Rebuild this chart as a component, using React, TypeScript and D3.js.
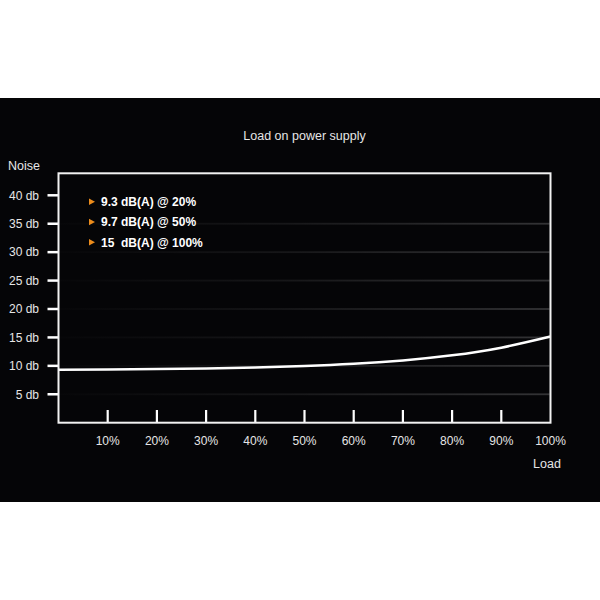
import React from "react";
import * as d3 from "d3";

const loadPct = [0, 10, 20, 30, 40, 50, 60, 70, 80, 90, 100];
const noiseDb = [9.3, 9.36, 9.44, 9.55, 9.72, 9.97, 10.35, 10.95, 11.85, 13.2, 15.15];
const xTicks = [10, 20, 30, 40, 50, 60, 70, 80, 90, 100];
const yTicks = [5, 10, 15, 20, 25, 30, 35, 40];
const gridTicks = [5, 10, 15, 20, 25, 30, 35];
const legendItems = ["9.3 dB(A) @ 20%", "9.7 dB(A) @ 50%", "15  dB(A) @ 100%"];

const W = 600;
const H = 600;
const left = 58.5;
const right = 550.5;
const top = 173.3;
const bottom = 422.7;

export default function App() {
  const x = d3.scaleLinear().domain([0, 100]).range([left, right]);
  const y = d3.scaleLinear().domain([0, 40]).range([bottom, 195.3]);
  const line = d3
    .line<number>()
    .x((_, i) => x(loadPct[i]))
    .y((d) => y(d))
    .curve(d3.curveNatural);
  const font = "'Liberation Sans', Arial, Helvetica, sans-serif";
  return (
    <div style={{ position: "fixed", left: 0, top: 0, width: W, height: H, background: "#fff" }}>
      <svg width={W} height={H} style={{ display: "block" }} fontFamily={font}>
        <defs>
          <linearGradient id="grid" x1="0" x2="1" y1="0" y2="0">
            <stop offset="0" stopColor="#070709" />
            <stop offset="0.45" stopColor="#161618" />
            <stop offset="1" stopColor="#333335" />
          </linearGradient>
        </defs>
        <rect x={0} y={98} width={W} height={404} fill="#050507" />
        <text x={304.5} y={140} fill="#e6e6e6" fontSize={12.5} textAnchor="middle">
          Load on power supply
        </text>
        <text x={8} y={170} fill="#e6e6e6" fontSize={12.5}>
          Noise
        </text>
        {gridTicks.map((t) => (
          <rect key={t} x={left + 1} y={y(t) - 0.9} width={right - left - 2} height={1.8} fill="url(#grid)" />
        ))}
        {yTicks.map((t) => (
          <g key={t}>
            <line x1={47.5} x2={left} y1={y(t)} y2={y(t)} stroke="#fff" strokeWidth={2.5} />
            <text x={39} y={y(t) + 4.3} fill="#e6e6e6" fontSize={12} textAnchor="end">
              {`${t} db`}
            </text>
          </g>
        ))}
        {xTicks.map((t) => (
          <g key={t}>
            {t < 100 && (
              <line x1={x(t)} x2={x(t)} y1={410} y2={bottom} stroke="#fff" strokeWidth={2.2} />
            )}
            <text x={x(t)} y={444.5} fill="#e6e6e6" fontSize={12} textAnchor="middle">
              {`${t}%`}
            </text>
          </g>
        ))}
        <text x={547} y={468} fill="#e6e6e6" fontSize={12.5} textAnchor="middle">
          Load
        </text>
        <path d={line(noiseDb) || ""} fill="none" stroke="#fff" strokeWidth={2.5} />
        <rect x={left} y={top} width={right - left} height={bottom - top} fill="none" stroke="#f2f2f2" strokeWidth={2} />
        {legendItems.map((s, i) => {
          const cy = 201.7 + i * 20.3;
          return (
            <g key={s}>
              <path d={`M89,${cy - 3.3} L95,${cy} L89,${cy + 3.3} Z`} fill="#ec8c1c" />
              <text x={101} y={cy + 4.3} fill="#fff" fontSize={12} fontWeight="bold" style={{ whiteSpace: "pre" }}>
                {s}
              </text>
            </g>
          );
        })}
      </svg>
    </div>
  );
}
